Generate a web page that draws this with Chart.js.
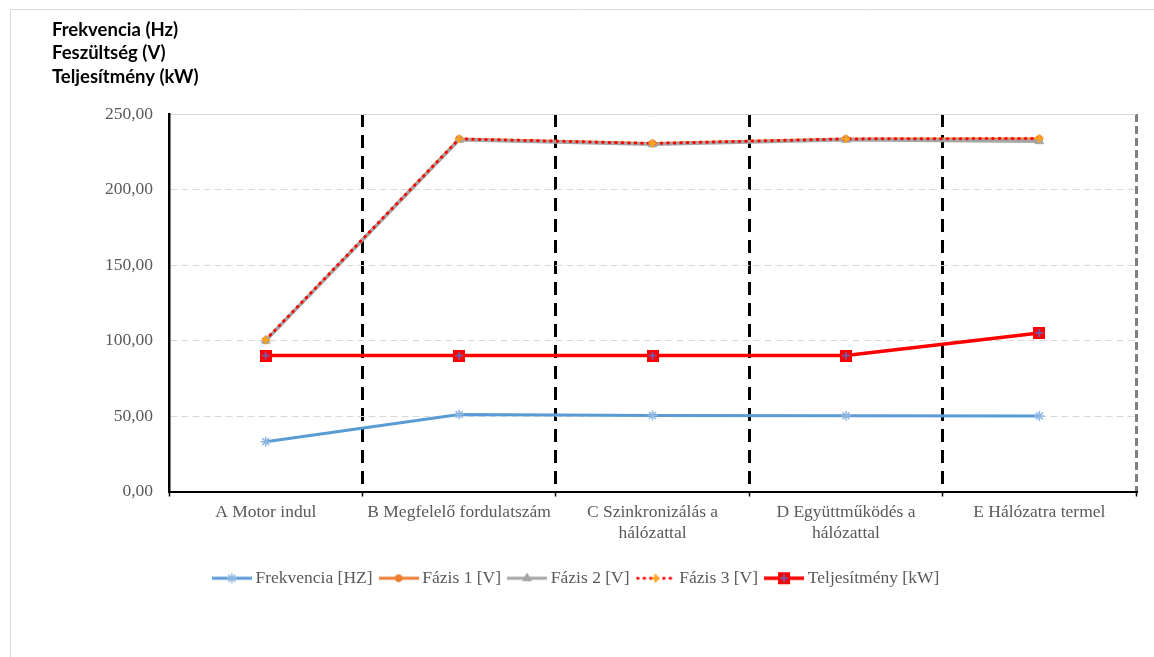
<!DOCTYPE html>
<html>
<head>
<meta charset="utf-8">
<script src="https://cdn.jsdelivr.net/npm/chart.js@4/dist/chart.umd.min.js"></script>
<style>
  html, body { margin: 0; padding: 0; background: #fff; }
  #wrap { width: 1154px; height: 657px; position: relative; }
</style>
</head>
<body>
<div id="wrap"><canvas id="c" width="1154" height="657"></canvas></div>
<script>
// Operating phases of the generator
const categories = [
  'A Motor indul',
  'B Megfelelő fordulatszám',
  ['C Szinkronizálás a', 'hálózattal'],
  ['D Együttműködés a', 'hálózattal'],
  'E Hálózatra termel'
];

// Measured values per phase
const frekvencia   = [33.0, 51.0, 50.3, 50.2, 50.0];
const fazis1       = [100.0, 233.5, 230.5, 233.5, 233.5];
const fazis2       = [100.0, 233.0, 230.0, 233.0, 232.0];
const fazis3       = [100.5, 233.5, 230.5, 233.5, 233.8];
const teljesitmeny = [90.0, 90.0, 90.0, 90.0, 105.0];

const seriesNames = ['Frekvencia [HZ]', 'Fázis 1 [V]', 'Fázis 2 [V]', 'Fázis 3 [V]', 'Teljesítmény [kW]'];
const yTickLabels = ['0,00', '50,00', '100,00', '150,00', '200,00', '250,00'];
const titleLines  = ['Frekvencia (Hz)', 'Feszültség (V)', 'Teljesítmény (kW)'];

const BLUE = '#5B9BD5', BLUE_MARK = '#8DB6E2', ORANGE = '#ED7D31', GRAY = '#A5A5A5',
      RED = '#FF0000', PLUS_ORANGE = '#FFA31A', TEXT = '#595959';
const SERIF = '"Liberation Serif", "Times New Roman", serif';

// Red square marker with a blue plus for the power series
function powerMarker() {
  const c = document.createElement('canvas');
  c.width = 12; c.height = 12;
  const g = c.getContext('2d');
  g.fillStyle = RED;
  g.fillRect(0, 0, 12, 12);
  g.strokeStyle = '#5A6BC4';
  g.lineWidth = 1.6;
  g.beginPath();
  g.moveTo(6, 2); g.lineTo(6, 10);
  g.moveTo(2, 6); g.lineTo(10, 6);
  g.stroke();
  return c;
}
const powerPoint = powerMarker();

// Legend sample: a short line with the series marker in the middle
function legendIcon(lineColor, lineWidth, dash, marker) {
  const c = document.createElement('canvas');
  c.width = 40; c.height = 14;
  const g = c.getContext('2d');
  g.strokeStyle = lineColor;
  g.lineWidth = lineWidth;
  if (dash) { g.setLineDash(dash); g.lineCap = 'round'; }
  g.beginPath(); g.moveTo(dash ? 2 : 0, 7); g.lineTo(40, 7); g.stroke();
  g.setLineDash([]); g.lineCap = 'butt';
  if (marker.image) {
    g.drawImage(marker.image, 20 - marker.image.width / 2, 7 - marker.image.height / 2);
  } else {
    g.fillStyle = marker.fill;
    g.strokeStyle = marker.stroke;
    g.lineWidth = marker.width;
    Chart.helpers.drawPoint(g, { pointStyle: marker.style, radius: marker.radius, rotation: 0, borderWidth: marker.width }, 20, 7);
  }
  return c;
}

const legendIcons = [
  legendIcon(BLUE, 3, null, { style: 'star', radius: 5, fill: BLUE_MARK, stroke: BLUE_MARK, width: 1.5 }),
  legendIcon(ORANGE, 3, null, { style: 'circle', radius: 3.5, fill: ORANGE, stroke: ORANGE, width: 1 }),
  legendIcon(GRAY, 3, null, { style: 'triangle', radius: 5, fill: GRAY, stroke: GRAY, width: 1 }),
  legendIcon(RED, 3, [0.5, 6], { style: 'cross', radius: 4, fill: PLUS_ORANGE, stroke: PLUS_ORANGE, width: 2.5 }),
  legendIcon(RED, 3.5, null, { image: powerPoint })
];

// White background, outer frame and the stacked axis title
const decorations = {
  id: 'decorations',
  beforeDraw(chart) {
    const g = chart.ctx;
    g.save();
    g.fillStyle = '#fff';
    g.fillRect(0, 0, chart.width, chart.height);
    g.strokeStyle = '#D9D9D9';
    g.lineWidth = 1;
    g.beginPath();
    g.moveTo(10.5, chart.height); g.lineTo(10.5, 9.5); g.lineTo(chart.width, 9.5);
    g.stroke();
    g.fillStyle = '#000';
    g.font = 'bold 18.5px Lato, "Open Sans", sans-serif';
    g.textBaseline = 'middle';
    g.textAlign = 'left';
    titleLines.forEach((t, i) => g.fillText(t, 52, 30 + i * 23.5));
    g.restore();
  }
};

const baseLine = { pointHoverRadius: 0, tension: 0, fill: false };

new Chart(document.getElementById('c'), {
  type: 'line',
  data: {
    labels: categories,
    datasets: [
      { ...baseLine, label: seriesNames[0], data: frekvencia, order: 0,
        borderColor: BLUE, borderWidth: 3,
        pointStyle: 'star', pointRadius: 5, pointBorderWidth: 1.5,
        pointBorderColor: BLUE_MARK, pointBackgroundColor: BLUE_MARK },
      { ...baseLine, label: seriesNames[1], data: fazis1, order: 3,
        borderColor: ORANGE, borderWidth: 3,
        pointStyle: 'circle', pointRadius: 3.5, pointBorderWidth: 1,
        pointBorderColor: ORANGE, pointBackgroundColor: ORANGE },
      { ...baseLine, label: seriesNames[2], data: fazis2, order: 2,
        borderColor: GRAY, borderWidth: 3.5,
        pointStyle: 'triangle', pointRadius: 5, pointBorderWidth: 1,
        pointBorderColor: GRAY, pointBackgroundColor: GRAY },
      { ...baseLine, label: seriesNames[3], data: fazis3, order: 1,
        borderColor: RED, borderWidth: 3, borderDash: [0.5, 6], borderCapStyle: 'round',
        pointStyle: 'cross', pointRadius: 4, pointBorderWidth: 2.5,
        pointBorderColor: PLUS_ORANGE, pointBackgroundColor: PLUS_ORANGE },
      { ...baseLine, label: seriesNames[4], data: teljesitmeny, order: 0,
        borderColor: RED, borderWidth: 3.5,
        pointStyle: powerPoint, pointRadius: 6 }
    ]
  },
  options: {
    responsive: false,
    animation: false,
    events: [],
    layout: { padding: { left: 20, right: 18, top: 114, bottom: 60 } },
    scales: {
      x: {
        type: 'category',
        offset: true,
        afterFit: s => { s.height = 67; },
        grid: {
          offset: true,
          drawOnChartArea: true,
          lineWidth: 3,
          color: ctx => ctx.type !== 'tick' ? '#7F7F7F' : (ctx.index === 0 ? 'rgba(0,0,0,0)' : '#000'),
          tickColor: '#000',
          tickWidth: 1.5,
          tickLength: 5,
          tickBorderDash: []
        },
        border: {
          display: true, color: '#000', width: 2,
          dash: ctx => ctx.type !== 'tick' ? [8, 4] : [13, 8]
        },
        ticks: {
          color: TEXT,
          padding: 5,
          maxRotation: 0,
          autoSkip: false,
          font: { family: SERIF, size: 17.5, lineHeight: 1.2 }
        }
      },
      y: {
        min: 0, max: 250,
        afterFit: s => { s.width = 149; },
        afterBuildTicks: s => { s.ticks = yTickLabels.map((_, i) => ({ value: i * 50 })); },
        grid: {
          drawTicks: false,
          lineWidth: 1,
          color: '#D9D9D9'
        },
        border: {
          display: true, color: '#000', width: 2.5,
          dash: ctx => (ctx.type === 'tick' && ctx.index === yTickLabels.length - 1) ? [] : [7, 4]
        },
        ticks: {
          color: TEXT,
          padding: 16,
          font: { family: SERIF, size: 17.5 },
          callback: (v, i) => yTickLabels[i]
        }
      }
    },
    plugins: {
      tooltip: { enabled: false },
      title: { display: false },
      legend: {
        display: true,
        position: 'bottom',
        labels: {
          usePointStyle: true,
          pointStyleWidth: 30,
          padding: 11,
          color: TEXT,
          font: { family: SERIF, size: 17.5 },
          sort: (a, b) => a.datasetIndex - b.datasetIndex,
          generateLabels: chart => chart.data.datasets.map((ds, i) => ({
            text: ds.label,
            datasetIndex: i,
            pointStyle: legendIcons[i],
            fontColor: TEXT,
            fillStyle: 'rgba(0,0,0,0)',
            strokeStyle: 'rgba(0,0,0,0)',
            lineWidth: 0,
            hidden: false
          }))
        }
      }
    }
  },
  plugins: [decorations]
});
</script>
</body>
</html>
